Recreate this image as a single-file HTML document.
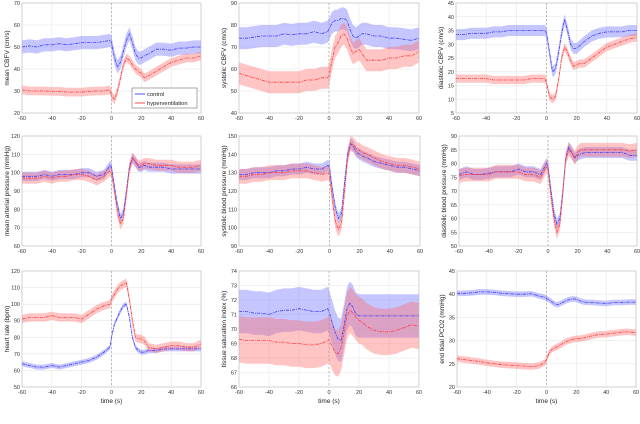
<!DOCTYPE html>
<html><head><meta charset="utf-8">
<style>
html,body{margin:0;padding:0;background:#fff;}
svg{display:block;font-family:"Liberation Sans",sans-serif;}
</style></head>
<body>
<svg id="fig" width="640" height="424" viewBox="0 0 640 424" xmlns="http://www.w3.org/2000/svg"></svg>
<script>
const times = [-60,-55,-50,-45,-40,-35,-30,-25,-20,-15,-10,-5,-1,0,2,4,6,8,10,12,14,16,18,20,22,25,30,35,40,45,50,55,60];
const xTicks = [-60,-40,-20,0,20,40,60];

const cbfvCtrl = [50,50.5,50,51,51,51.5,51,51.5,52,52,52,52.5,53,52,45,41,43,48,53,56,52,47,45,45,46,47,49,49,48.5,49.5,49.5,50,50];
const cbfvHyp  = [30.5,30,30,30,29.8,29.8,29.5,29.5,29.5,29.8,30,30,30.5,28,26,30,36,42,45,44,42,40,39,38,36,37,39,41,43,44,45,45,46];
const sysCbfvCtrl = [74,74,74.5,75,75,75,76,75.5,76,76,77,76,77,78,81,82,82,83,83,82,78,75,74,75,76,76,75,75,74,74,73.5,73,74];
const sysCbfvHyp  = [58,57,56,55,54,54,54,54,54,55,55,56,56,57,64,70,72,75,76,74,70,67,68,69,67,64,64,64,65,65,66,66,68];
const diaCbfvCtrl = [33.5,33.5,34,34,34,34.5,34.5,35,35,35,35,35,35,34,27,20,21,27,34,39,35,30,28.5,28.5,29.5,31,33,34,34.5,34.5,34.5,35,35];
const diaCbfvHyp  = [17.5,17.5,17.5,17.5,17.5,17,17,17,17,17,17.5,17.5,17.5,16,11,10,11,17,25,29,27,24,22,22.5,23,23,25,27,29,30,31,32,32.5];
const mapCtrl = [98,98,98,99,98,99,99,99,100,100,98,99,104,103,92,82,75,78,90,103,108,106,103,103,104,103,103,103,102,102,102,102,102];
const mapHyp  = [97,97,97,98,97,98,98,99,99,98,96,98,101,100,90,78,72,75,88,102,108,106,104,104,105,105,104,104,104,103,103,103,104];
const sbpCtrl = [129,129,130,130,130,131,131,132,132,133,132,132,134,133,120,110,105,108,125,140,146,144,141,140,139,138,136,135,134,133,133,132,131];
const sbpHyp  = [128,128,129,129,130,130,130,131,131,131,130,129,130,129,115,103,99,103,120,138,146,145,143,142,141,140,138,136,135,134,134,133,132];
const dbpCtrl = [76,77,76,76,76.5,77,77,77,78,77,77,76,80,79,70,62,58,60,70,82,86,84,82,83,83.5,84,84,84,84,84,84,83,83];
const dbpHyp  = [75.5,76,76,76,76,77,77,77,77,76,76,75,79,78,68,60,55,58,69,82,85,84,82,84,85,85,85,85,85,85,85,84.5,85];
const hrCtrl = [64,63,62,62,63,62,63,64,65,66,68,71,74,80,88,92,96,99,100,92,80,74,72,71,71,72,72,73,73,73,73,73,73];
const hrHyp  = [91,92,92,92,93,92,92,92,91,94,97,99,100,103,106,109,111,112,113,103,90,80,79,79,78,74,73,74,75,75,74,74,76];
const tsiCtrl = [71.2,71.2,71.1,71.1,71,71.2,71.3,71.3,71.4,71.3,71.2,71.2,71.4,71.2,70.5,69.8,69.3,69.2,70.2,71.4,71.8,71.5,71,70.9,70.9,70.9,70.9,70.9,70.9,70.9,70.9,70.9,70.9];
const tsiHyp  = [69.3,69.2,69.2,69.2,69.2,69.1,69.1,69,69,68.9,68.9,69,69.2,69.3,68.8,68.4,68.3,68.7,69.8,70.9,71.3,71.1,70.8,70.6,70.5,70.2,69.9,69.8,69.8,69.9,70.1,70.3,70.2];
const co2Ctrl = [40.2,40.2,40.3,40.5,40.5,40.4,40.2,40.1,40,40,40.1,39.6,39.3,39.1,38.7,38.2,37.8,37.8,38.1,38.4,38.7,38.9,39,38.9,38.6,38.3,38.2,38.1,38,38.2,38.2,38.3,38.3];
const co2Hyp  = [26.1,25.9,25.7,25.5,25.2,25,24.8,24.7,24.6,24.5,24.4,24.6,25.3,26,27.5,28.2,28.5,28.8,29.2,29.6,29.9,30.1,30.3,30.4,30.4,30.6,31,31.3,31.4,31.6,31.8,31.9,31.7];
const bandCtrl = [3,5,2,2.5,3,2,1.5,1.5,0.6];
const bandHyp  = [2,5,1.5,3,4,2.5,2.5,1.6,0.7];

const yTicks = [
 [20,30,40,50,60,70],[40,50,60,70,80,90],[5,10,15,20,25,30,35,40,45],
 [60,70,80,90,100,110,120],[90,100,110,120,130,140,150],[50,55,60,65,70,75,80,85,90],
 [50,60,70,80,90,100,110,120],[66,67,68,69,70,71,72,73,74],[20,25,30,35,40,45]];
const yTitles = ["mean CBFV (cm/s)","systolic CBFV (cm/s)","diastolic CBFV (cm/s)",
 "mean arterial pressure (mmHg)","systolic blood pressure (mmHg)","diastolic blood pressure (mmHg)",
 "heart rate (bpm)","tissue saturation index (%)","end tidal PCO2 (mmHg)"];
const names = ["mean-cbfv","systolic-cbfv","diastolic-cbfv","mean-arterial-pressure","systolic-bp","diastolic-bp","heart-rate","tissue-saturation","end-tidal-pco2"];
const ctrlSeries = [cbfvCtrl,sysCbfvCtrl,diaCbfvCtrl,mapCtrl,sbpCtrl,dbpCtrl,hrCtrl,tsiCtrl,co2Ctrl];
const hypSeries  = [cbfvHyp,sysCbfvHyp,diaCbfvHyp,mapHyp,sbpHyp,dbpHyp,hrHyp,tsiHyp,co2Hyp];

// layout (pixel boxes)
const boxes = [
 [22,3,201,113],[239,3,419,113],[456,3,637,113],
 [22,136,201,246],[239,136,420,246],[459,136,637,246],
 [22,271,201,387],[239,271,419,387],[457,271,636,387]];

const NS="http://www.w3.org/2000/svg";
const svg=document.getElementById('fig');
function mk(tag,attrs,parent){const e=document.createElementNS(NS,tag);for(const k in attrs)e.setAttribute(k,attrs[k]);(parent||svg).appendChild(e);return e;}

for(let p=0;p<9;p++){
  const [x0,y0,x1,y1]=boxes[p];
  const yt=yTicks[p];const ymin=yt[0],ymax=yt[yt.length-1];
  const sx=t=>x0+(t+60)/120*(x1-x0);
  const sy=v=>y1-(v-ymin)/(ymax-ymin)*(y1-y0);
  const g=mk('g',{});
  
  
  mk('rect',{x:x0,y:y0,width:x1-x0,height:y1-y0,fill:'#fff'},g);
  // grid
  xTicks.forEach(t=>{
    const l=mk('line',{x1:sx(t),x2:sx(t),y1:y0,y2:y1,stroke:'#e6e6e6','stroke-width':0.6},g);
    
    
    const tx=mk('text',{x:sx(t),y:y1+7,'font-size':5.5,'text-anchor':'middle',fill:'#333'},g);
    tx.textContent=t;
    
    
  });
  yt.forEach(v=>{
    const l=mk('line',{x1:x0,x2:x1,y1:sy(v),y2:sy(v),stroke:'#e6e6e6','stroke-width':0.6},g);
    
    
    const tx=mk('text',{x:x0-2,y:sy(v)+2,'font-size':5.5,'text-anchor':'end',fill:'#333'},g);
    tx.textContent=v;
    
    
  });
  // bands and lines
  const series=[[ctrlSeries[p],bandCtrl[p],'rgba(110,110,255,0.4)','#3a3aff','control'],
                [hypSeries[p],bandHyp[p],'rgba(255,110,110,0.4)','#ff3a3a','hyperventilation']];
  series.forEach(([vals,b,fc,lc,nm])=>{
    let d='';
    times.forEach((t,i)=>{d+=(i?'L':'M')+sx(t).toFixed(1)+','+sy(vals[i]+b).toFixed(1);});
    for(let i=times.length-1;i>=0;i--)d+='L'+sx(times[i]).toFixed(1)+','+sy(vals[i]-b).toFixed(1);
    const band=mk('path',{d:d+'Z',fill:fc,stroke:'none'},g);
    
    
  });
  series.forEach(([vals,b,fc,lc,nm])=>{
    let d='';
    times.forEach((t,i)=>{d+=(i?'L':'M')+sx(t).toFixed(1)+','+sy(vals[i]).toFixed(1);});
    const ln=mk('path',{d:d,fill:'none',stroke:lc,'stroke-width':0.8,'stroke-dasharray':'3,1,1,1'},g);
    
    
  });
  const zl=mk('line',{x1:sx(0),x2:sx(0),y1:y0,y2:y1,stroke:'#999','stroke-width':0.6,'stroke-dasharray':'2,2'},g);
  
  
  mk('rect',{x:x0,y:y0,width:x1-x0,height:y1-y0,fill:'none',stroke:'#bbb','stroke-width':0.6},g);
  const yl=mk('text',{x:0,y:0,'font-size':6.5,'text-anchor':'middle',fill:'#222',transform:`translate(${x0-13},${(y0+y1)/2}) rotate(-90)`},g);
  yl.textContent=yTitles[p];
  
  
  if(p>=6){
    const xl=mk('text',{x:(x0+x1)/2,y:y1+16,'font-size':6.5,'text-anchor':'middle',fill:'#222'},g);
    xl.textContent='time (s)';
    
    
  }
}
// legend
const lg=mk('g',{});


mk('rect',{x:132,y:88,width:65,height:20,fill:'#fff',stroke:'#555','stroke-width':0.5},lg);
[['control','#3a3aff',94],['hyperventilation','#ff3a3a',103]].forEach(([t,c,y])=>{
  const e=mk('g',{},lg);
  
  
  mk('line',{x1:135,x2:145,y1:y,y2:y,stroke:c,'stroke-width':0.9},e);
  const tx=mk('text',{x:147,y:y+2,'font-size':5.8,fill:'#222'},e);
  tx.textContent=t;
});
</script>
</body></html>
